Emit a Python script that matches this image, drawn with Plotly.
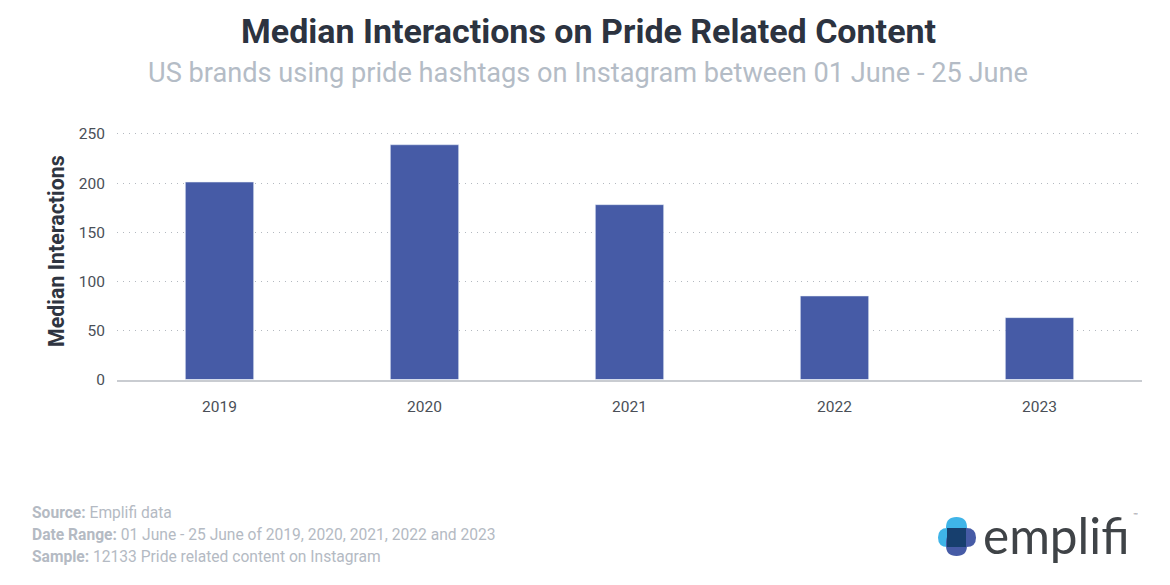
import plotly.graph_objects as go

W, H = 1170, 585

years = ["2019", "2020", "2021", "2022", "2023"]
interactions = [201, 239, 178, 85, 63]
y_ticks = [0, 50, 100, 150, 200, 250]

title = "Median Interactions on Pride Related Content"
subtitle = "US brands using pride hashtags on Instagram between 01 June - 25 June"
footer = [
    ("Source:", "Emplifi data", 513),
    ("Date Range:", "01 June - 25 June of 2019, 2020, 2021, 2022 and 2023", 535),
    ("Sample:", "12133 Pride related content on Instagram", 557),
]


def px(x):
    return x / W


def py(y):
    return 1 - y / H


def pill(x0, y0, x1, y1, color):
    # rounded bar for the logo, given in page pixels
    r = min(x1 - x0, y1 - y0) / 2
    pts = [
        ("M", x0 + r, y0), ("L", x1 - r, y0), ("Q", x1, y0), ("", x1, y0 + r),
        ("L", x1, y1 - r), ("Q", x1, y1), ("", x1 - r, y1), ("L", x0 + r, y1),
        ("Q", x0, y1), ("", x0, y1 - r), ("L", x0, y0 + r), ("Q", x0, y0), ("", x0 + r, y0),
    ]
    path = " ".join(f"{c} {px(x):.5f} {py(y):.5f}" for c, x, y in pts) + " Z"
    return dict(type="path", xref="paper", yref="paper", path=path, fillcolor=color,
                line_width=0, layer="above")


fig = go.Figure()
fig.add_trace(go.Bar(x=years, y=interactions, marker_color="#465ba6", width=0.333))

fig.update_layout(
    width=W,
    height=H,
    margin=dict(l=0, r=0, t=0, b=0, pad=0, autoexpand=False),
    paper_bgcolor="white",
    plot_bgcolor="white",
    showlegend=False,
    font=dict(family="Roboto", color="#4a4f57", size=16),
    xaxis=dict(
        domain=[px(117), px(1142)],
        anchor="y",
        type="category",
        showgrid=False,
        showline=True,
        linecolor="#c9ccd1",
        linewidth=1.5,
        ticks="",
        ticklabelstandoff=12,
        tickfont=dict(size=15.5, color="#4a4f57"),
    ),
    yaxis=dict(
        # range runs a little past 250 so plotly keeps the top gridline
        domain=[py(379.5), py(132)],
        anchor="x",
        range=[0, 252],
        tickvals=y_ticks,
        showgrid=True,
        gridcolor="#b4b9c0",
        griddash="1px 5px",
        gridwidth=1,
        zeroline=False,
        showline=False,
        ticks="",
        ticklabelstandoff=11,
        tickfont=dict(size=15.5, color="#4a4f57"),
    ),
    shapes=[
        pill(938, 528, 958, 547, "#3fb4e8"),
        pill(946, 517, 967, 542, "#3fb4e8"),
        pill(946, 532, 967, 556, "#465ba6"),
        pill(956, 528, 976, 547, "#465ba6"),
        dict(type="rect", xref="paper", yref="paper", x0=px(947), x1=px(966),
             y0=py(547), y1=py(528), fillcolor="#173f6e", line_width=0, layer="above"),
    ],
)

fig.add_annotation(x=px(588), y=py(31), xref="paper", yref="paper", text=f"<b>{title}</b>",
                   showarrow=False, xanchor="center", yanchor="middle",
                   font=dict(size=34, color="#2c3340", family="Roboto"))
fig.add_annotation(x=px(588), y=py(73), xref="paper", yref="paper", text=subtitle,
                   showarrow=False, xanchor="center", yanchor="middle",
                   font=dict(size=27.2, color="#b4bcc6", family="Roboto"))
fig.add_annotation(x=px(56), y=py(251), xref="paper", yref="paper",
                   text="<b>Median Interactions</b>", textangle=-90,
                   showarrow=False, xanchor="center", yanchor="middle",
                   font=dict(size=21.4, color="#2f3541", family="Roboto"))

for label, rest, y in footer:
    fig.add_annotation(x=px(30), y=py(y), xref="paper", yref="paper",
                       text=f"<b>{label}</b> {rest}", showarrow=False,
                       xanchor="left", yanchor="middle",
                       font=dict(size=15.6, color="#b4bac3", family="Roboto"))

fig.add_annotation(x=px(981), y=py(535), xref="paper", yref="paper", text="emplifi",
                   showarrow=False, xanchor="left", yanchor="middle",
                   font=dict(size=49.5, color="#3f4347", family="Lato"))
fig.add_annotation(x=px(1135), y=py(514), xref="paper", yref="paper", text="™",
                   showarrow=False, xanchor="center", yanchor="middle",
                   font=dict(size=6, color="#8a8d91", family="Lato"))

fig.write_html("out.html", config=dict(displayModeBar=False),
               post_script="document.body.style.margin='0';")
